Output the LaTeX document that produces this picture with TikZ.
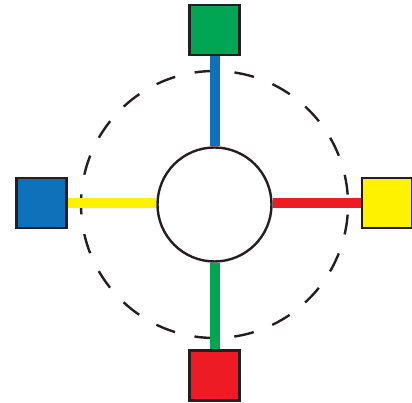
\documentclass[tikz,border=0pt]{standalone}
\usetikzlibrary{positioning}
\definecolor{hubgreen}{HTML}{00A651}
\definecolor{hubblue}{HTML}{0F71B9}
\definecolor{hubyellow}{HTML}{FFF200}
\definecolor{hubred}{HTML}{ED1C24}
\definecolor{ink}{HTML}{231F20}
\begin{document}
\begin{tikzpicture}[
  x=1pt, y=1pt,
  port/.style={draw=ink, line width=2.5pt, minimum size=50pt, inner sep=0pt},
  hub/.style={circle, draw=ink, line width=2.4pt, fill=white, minimum size=114pt, inner sep=0pt},
  spoke/.style={line width=10pt},
  orbit/.style={draw=ink, line width=2.4pt, dash pattern=on 20pt off 19.94pt, dash phase=30pt}
]
\useasboundingbox (0,0) rectangle (412,403);
\draw[orbit] (214.5,198.5) circle (133.5);
\node[hub] (hub) at (214.5,198.5) {};
\node[port, fill=hubgreen]  (north) at (214.5,373) {};
\node[port, fill=hubred]    (south) at (214.5,27.5) {};
\node[port, fill=hubblue]   (west)  at (41.7,200) {};
\node[port, fill=hubyellow] (east)  at (387,200) {};
% spokes from the hub to each port
\draw[spoke, hubblue]   (hub.north) -- (north.south);
\draw[spoke, hubgreen]  (hub.south) -- (south.north);
\draw[spoke, hubyellow] (west.east) -- (west.east -| hub.west);
\draw[spoke, hubred]    (east.west) -- (east.west -| hub.east);
\end{tikzpicture}
\end{document}
